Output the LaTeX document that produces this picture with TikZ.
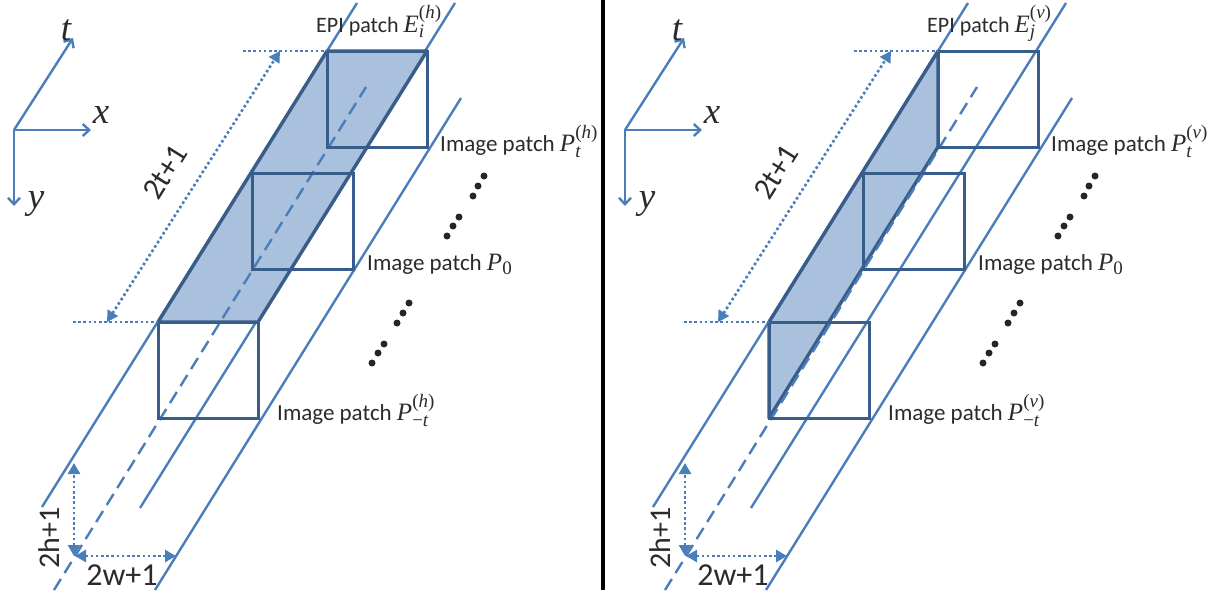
\documentclass[tikz,border=0pt]{standalone}
\usepackage{fontspec}
\setmainfont{Carlito}
\newfontfamily\mif{Liberation Serif}
\newcommand\mv[1]{\hbox{\fontsize{25}{27}\selectfont\mif\itshape #1}}
\newcommand\sv[1]{\hbox{\fontsize{19}{21}\selectfont\mif\itshape #1}}
\newcommand\sr[1]{\hbox{\fontsize{19}{21}\selectfont\mif #1}}
\newcommand\up[1]{\raise3pt\hbox{\sr{(}\sv{#1}\sr{)}}}
\usetikzlibrary{arrows.meta}
\definecolor{lineblue}{HTML}{4A7EBB}
\definecolor{rimblue}{HTML}{385D8A}
\definecolor{fillblue}{HTML}{AAC1DE}
\definecolor{inkgrey}{HTML}{2B2B2B}
\tikzset{
  x=1pt,y=-1pt,
  guide/.style={draw=lineblue,line width=2.4pt},
  axisline/.style={draw=lineblue,line width=2.4pt,-{Straight Barb[length=6.5pt,width=12pt,line width=2.4pt]}},
  rimline/.style={draw=rimblue,line width=3pt},
  shade patch/.style={fill=fillblue,draw=rimblue,line width=3.4pt,line join=round},
  dashline/.style={draw=lineblue,line width=2.4pt,dash pattern=on 13pt off 7pt},
  dotline/.style={draw=lineblue,line width=2.6pt,dash pattern=on 2.6pt off 2.6pt},
  dotarrow/.style={dotline,{Triangle[length=11pt,width=12pt]}-{Triangle[length=11pt,width=12pt]}},
  blackdot/.style={circle,fill=black!85,inner sep=0pt,minimum size=7pt},
  plabel/.style={anchor=base west,inner sep=0pt,text=inkgrey,font=\fontsize{23}{27}\selectfont},
  epilabel/.style={anchor=base west,inner sep=0pt,text=inkgrey,font=\fontsize{22}{26}\selectfont},
  axlabel/.style={inner sep=0pt,text=inkgrey,font=\fontsize{37}{40}\selectfont\mif\itshape},
  pics/panel/.style n args={3}{code={
    % axes
    \coordinate (o) at (14,130);
    \coordinate (tend) at (73,38);
    \coordinate (xend) at (91,130);
    \coordinate (yend) at (14,206);
    \draw[axisline] (o) -- (tend);
    \draw[axisline] (o) -- (xend);
    \draw[axisline] (o) -- (yend);
    \node[axlabel] (tl) at (66,30) {t};
    \node[axlabel] (xl) at (101,115) {x};
    \node[axlabel] (yl) at (36,204) {y};
    % corners
    \coordinate (a) at (327,51);
    \coordinate (b) at (427,51);
    \coordinate (c) at (327,147);
    \coordinate (d) at (427,147);
    \coordinate (e) at (252,173);
    \coordinate (f) at (353,269);
    \coordinate (g) at (158,322);
    \coordinate (h) at (258,322);
    \coordinate (i) at (158,418);
    \coordinate (j) at (258,418);
    % long guides
    \coordinate (l1a) at (42,507);
    \coordinate (l1b) at (357,3);
    \coordinate (l2a) at (140,508);
    \coordinate (l2b) at (455,3);
    \coordinate (l3a) at (155,590);
    \coordinate (l3b) at (461,98);
    \coordinate (l4a) at (54,590);
    \coordinate (l4b) at (366,87);
    \draw[guide] (l1a) -- (l1b);
    \draw[guide] (l2a) -- (l2b);
    \draw[guide] (l3a) -- (l3b);
    % shaded patch
    \draw[shade patch] #1 -- cycle;
    \draw[dashline] (l4a) -- (l4b);
    % image patches
    \draw[rimline] (a) rectangle (d);
    \draw[rimline] (e) rectangle (f);
    \draw[rimline] (g) rectangle (j);
    % dimensions
    \coordinate (d1) at (243,51);
    \coordinate (d2) at (73,322);
    \coordinate (d3) at (280,51);
    \coordinate (d4) at (107,322);
    \coordinate (v1) at (74,556);
    \coordinate (v2) at (74,463);
    \coordinate (h1) at (75,556);
    \coordinate (h2) at (176,556);
    \draw[dotline] (d1) -- (a);
    \draw[dotline] (d2) -- (g);
    \draw[dotarrow] (d4) -- (d3);
    \draw[dotarrow] (v1) -- (v2);
    \draw[dotarrow] (h1) -- (h2);
    \node[inner sep=0pt,text=inkgrey,font=\fontsize{31}{34}\selectfont,rotate=58] (tt) at (165,172) {2t+1};
    \node[inner sep=0pt,text=inkgrey,font=\fontsize{30}{34}\selectfont,rotate=90] (hh) at (49,538) {2h+1};
    \node[inner sep=0pt,text=inkgrey,font=\fontsize{32}{36}\selectfont] (ww) at (122,575) {2w+1};
    % labels
    \node[epilabel] (epi) at (316,32) {EPI patch $\mv{E}_{\sv{#2}}^{\up{#3}}$};
    \node[plabel] (pt) at (440,151) {Image patch $\mv{P}_{\sv{t}}^{\up{#3}}$};
    \node[plabel] (p0) at (367,270) {Image patch $\mv{P}_{\sr{0}}$};
    \node[plabel] (pm) at (277,420) {Image patch $\mv{P}_{\sr{−}\sv{t}}^{\up{#3}}$};
    % dots
    \foreach \n/\px/\py in {1/484/176,2/478/186,3/473/196,4/459/217,5/453/226,6/447/236,
                            7/409/303,8/403/313,9/397/323,10/384/344,11/378/353,12/372/363}
      \node[blackdot] (dot\n) at (\px,\py) {};
  }},
}
\begin{document}
\begin{tikzpicture}
\useasboundingbox (0,0) rectangle (1222,595);
\fill[white] (0,0) rectangle (1222,595);
\pic (L) at (0,0) {panel={(a) -- (b) -- (h) -- (g)}{i}{h}};
\pic (R) at (611,0) {panel={(a) -- (c) -- (i) -- (g)}{j}{v}};
\coordinate (sep1) at (603,0);
\coordinate (sep2) at (603,590);
\draw[black,line width=3.2pt] (sep1) -- (sep2);
\end{tikzpicture}
\end{document}
